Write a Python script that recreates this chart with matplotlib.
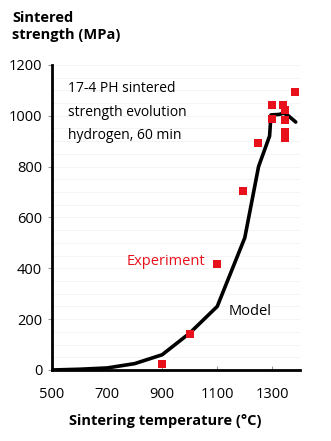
import matplotlib
matplotlib.use("Agg")
import matplotlib.pyplot as plt

plt.rcParams['font.family'] = ['Open Sans', 'DejaVu Sans']

# Model curve
model_temp = [500, 600, 700, 800, 900, 1000, 1100, 1200, 1250, 1290, 1295, 1325, 1342, 1360, 1385]
model_strength = [0, 3, 8, 25, 60, 145, 250, 520, 800, 920, 1003, 1005, 1010, 998, 975]

# Experimental points
exp_temp = [900, 1000, 1100, 1195, 1247, 1297, 1297, 1338, 1346, 1346, 1346, 1346, 1384]
exp_strength = [25, 142, 417, 705, 892, 1042, 988, 1042, 1024, 982, 937, 911, 1092]

xticks = [500, 700, 900, 1100, 1300]
yticks = [0, 200, 400, 600, 800, 1000, 1200]

fig = plt.figure(figsize=(3.31, 4.41), dpi=100)
ax = fig.add_axes([0.157, 0.161, 0.749, 0.692])

for yv in range(50, 1201, 50):
    ax.axhline(yv, color='#f3f3f3', lw=0.6, zorder=0)

ax.plot(model_temp, model_strength, color='black', lw=2.6, zorder=2, solid_capstyle='round')
ax.scatter(exp_temp, exp_strength, marker='s', s=32, color='#e8111b', zorder=3, linewidths=0)

ax.set_xlim(500, 1400)
ax.set_ylim(0, 1200)
ax.set_xticks(xticks)
ax.set_yticks(yticks)
ax.tick_params(axis='both', labelsize=10.5, length=3, width=0.8, color='#999999', pad=4)
ax.tick_params(axis='x', direction='in', pad=12)
for s in ['top', 'right']:
    ax.spines[s].set_visible(False)
for s in ['left', 'bottom']:
    ax.spines[s].set_linewidth(2)
    ax.spines[s].set_color('black')

ax.text(560, 1135, "17-4 PH sintered\nstrength evolution\nhydrogen, 60 min",
        fontsize=10, va='top', ha='left', linespacing=1.75)
ax.text(1055, 425, "Experiment", color='#e8111b', fontsize=10.5, ha='right', va='center')
ax.text(1140, 230, "Model", fontsize=10.5, ha='left', va='center')

fig.text(0.036, 0.975, "Sintered\nstrength (MPa)", fontsize=10.5, fontweight='bold',
         va='top', ha='left', linespacing=1.3)
fig.text(0.5, 0.045, "Sintering temperature (°C)", fontsize=10.5, fontweight='bold',
         ha='center', va='center')

fig.savefig("out.png", dpi=100)
